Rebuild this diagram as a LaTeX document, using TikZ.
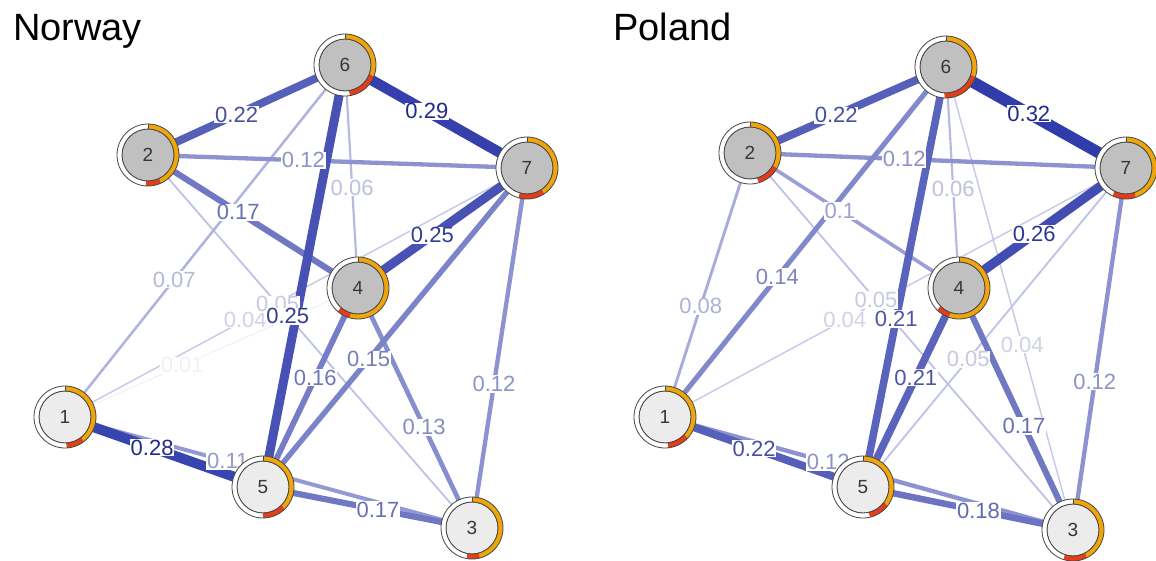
\documentclass[tikz,border=0pt]{standalone}
\usepackage{fontspec}
\setmainfont{Liberation Sans}
\usetikzlibrary{backgrounds}

\definecolor{edgeblue}{RGB}{48,60,170}
\definecolor{labblue}{RGB}{32,42,140}
\definecolor{pieorange}{RGB}{240,165,10}
\definecolor{piered}{RGB}{228,62,25}
\definecolor{darkfill}{RGB}{192,192,192}
\definecolor{lightfill}{RGB}{236,236,236}
\definecolor{ringline}{RGB}{70,70,70}
\definecolor{numgrey}{RGB}{55,55,55}

\pgfdeclarelayer{edges}
\pgfsetlayers{edges,main}

\tikzset{
  vtx/.style={circle, minimum size=52pt, inner sep=0pt, draw=ringline, line width=0.8pt,
    font=\fontsize{19}{19}\selectfont, text=numgrey},
  dk/.style={vtx, fill=darkfill},
  lt/.style={vtx, fill=lightfill},
  wlab/.style={fill=white, inner sep=0.8pt, font=\fontsize{22}{22}\selectfont},
  paneltitle/.style={anchor=base west, inner sep=0pt, font=\fontsize{38}{38}\selectfont},
}

% weighted connector: [label options] from, to, weight, label position
\newcommand\edgeline[5][]{%
  \pgfmathsetmacro\lw{max(0.6,36*#4)}%
  \pgfmathsetmacro\lp{min(100,100*(#4/0.3)^0.65)}%
  \draw[line width=\lw pt, edgeblue!\lp!white] (#2.center) -- (#3.center);}
\newcommand\edgelabel[5][]{%
  \pgfmathsetmacro\tp{min(100,100*(#4/0.28)^0.8)}%
  \path (#2.center) -- node[wlab, text=labblue!\tp!white, pos=#5, #1] {#4} (#3.center);}

% pie ring round a node: node, end of orange part, end of red part
% (degrees, clockwise from twelve o'clock)
\newcommand\piering[3]{%
  \fill[white, even odd rule] (#1.center) circle (31) circle (26);
  \draw[pieorange, line width=5pt] (#1.center) ++(-90:28.5)
     arc[start angle=-90, end angle={#2-90}, radius=28.5];
  \draw[piered, line width=5pt] (#1.center) ++({#2-90}:28.5)
     arc[start angle={#2-90}, end angle={#3-90}, radius=28.5];
  \draw[ringline, line width=0.5pt] (#1.center) ++(-90:26) -- ++(-90:5);
  \draw[ringline, line width=0.8pt] (#1.center) circle (31);
  \draw[ringline, line width=0.8pt] (#1.center) circle (26);}

\newcommand\norwaylinks{%
  \netE{n1}{n4}{0.01}{0.40}
  \netE{n1}{n7}{0.04}{0.39}
  \netE{n2}{n3}{0.05}{0.40}
  \netE{n6}{n4}{0.06}{0.55}
  \netE{n1}{n6}{0.07}{0.39}
  \netE{n1}{n3}{0.11}{0.40}
  \netE{n2}{n7}{0.12}{0.41}
  \netE{n3}{n7}{0.12}{0.40}
  \netE{n4}{n3}{0.13}{0.58}
  \netE{n5}{n7}{0.15}{0.40}
  \netE{n4}{n5}{0.16}{0.45}
  \netE{n2}{n4}{0.17}{0.43}
  \netE{n5}{n3}{0.17}{0.55}
  \netE{n2}{n6}{0.22}{0.45}
  \netE[xshift=-8pt, yshift=2pt]{n6}{n5}{0.25}{0.60}
  \netE{n4}{n7}{0.25}{0.44}
  \netE{n1}{n5}{0.28}{0.44}
  \netE{n6}{n7}{0.29}{0.45}}

\newcommand\polandlinks{%
  \netE{p1}{p7}{0.04}{0.39}
  \netE{p6}{p3}{0.04}{0.60}
  \netE{p2}{p3}{0.05}{0.39}
  \netE{p7}{p5}{0.05}{0.60}
  \netE{p6}{p4}{0.06}{0.55}
  \netE{p1}{p2}{0.08}{0.42}
  \netE{p2}{p4}{0.1}{0.43}
  \netE{p2}{p7}{0.12}{0.41}
  \netE{p1}{p3}{0.12}{0.40}
  \netE{p7}{p3}{0.12}{0.59}
  \netE{p1}{p6}{0.14}{0.40}
  \netE{p4}{p3}{0.17}{0.57}
  \netE{p5}{p3}{0.18}{0.55}
  \netE{p6}{p5}{0.21}{0.60}
  \netE{p4}{p5}{0.21}{0.45}
  \netE{p2}{p6}{0.22}{0.44}
  \netE{p1}{p5}{0.22}{0.45}
  \netE{p4}{p7}{0.26}{0.45}
  \netE{p6}{p7}{0.32}{0.46}}

\begin{document}
\begin{tikzpicture}[x=1pt, y=-1pt]
\useasboundingbox (0,0) rectangle (1156,560);

% titles
\node[paneltitle] (tnor) at (13,40) {Norway};
\node[paneltitle] (tpol) at (613,40) {Poland};

% Norway network
\node[lt] (n1) at (65,417) {1};
\node[dk] (n2) at (148,155) {2};
\node[lt] (n3) at (472,528) {3};
\node[dk] (n4) at (358,288) {4};
\node[lt] (n5) at (263,487) {5};
\node[dk] (n6) at (345,65) {6};
\node[dk] (n7) at (527,168) {7};

% Poland network
\node[lt] (p1) at (665,417) {1};
\node[dk] (p2) at (750,153) {2};
\node[lt] (p3) at (1073,530) {3};
\node[dk] (p4) at (959,288) {4};
\node[lt] (p5) at (863,487) {5};
\node[dk] (p6) at (946,67) {6};
\node[dk] (p7) at (1126,168) {7};

\piering{n1}{142}{177}
\piering{n2}{155}{184}
\piering{n3}{165}{190}
\piering{n4}{196}{221}
\piering{n5}{135}{180}
\piering{n6}{111}{171}
\piering{n7}{146}{196}

\piering{p1}{133}{174}
\piering{p2}{119}{164}
\piering{p3}{153}{198}
\piering{p4}{199}{225}
\piering{p5}{127}{167}
\piering{p6}{108}{183}
\piering{p7}{161}{206}

\begin{pgfonlayer}{edges}
  \fill[white] (0,0) rectangle (1156,560);
  \let\netE\edgeline
  \norwaylinks
  \polandlinks
  \let\netE\edgelabel
  \norwaylinks
  \polandlinks
\end{pgfonlayer}
\end{tikzpicture}
\end{document}
